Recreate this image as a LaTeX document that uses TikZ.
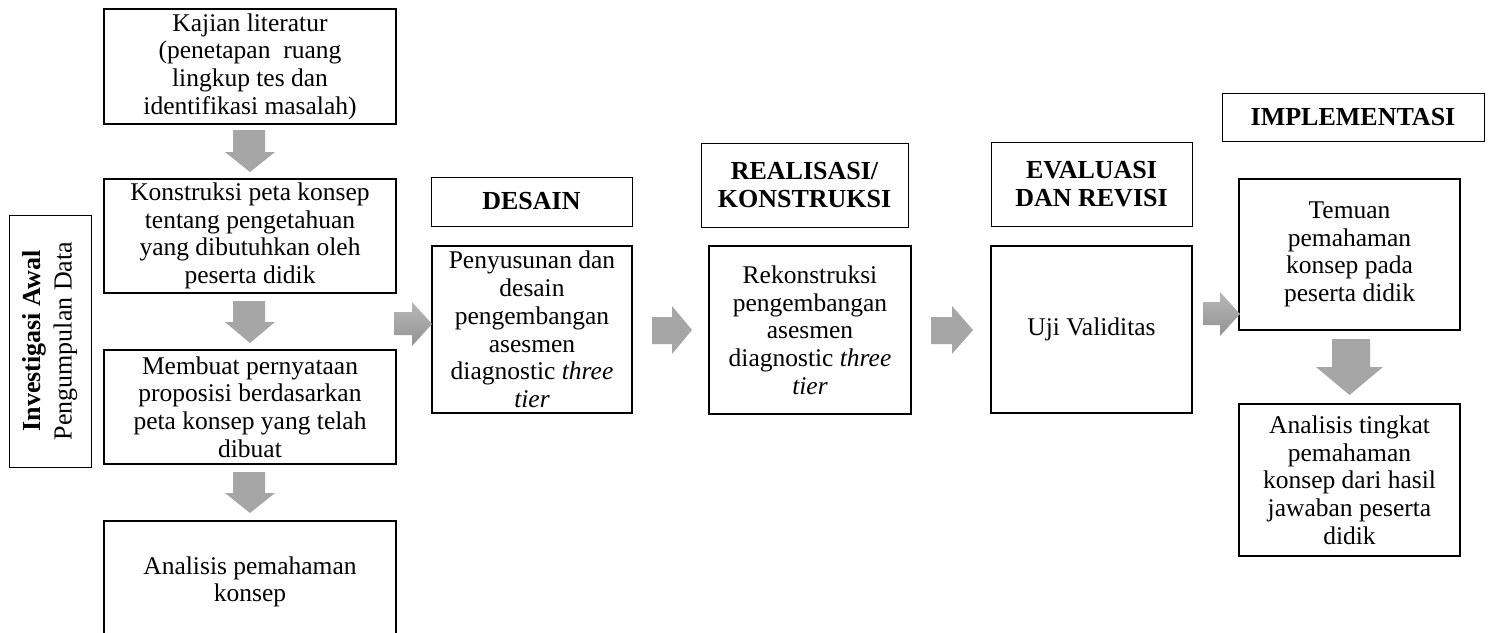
\documentclass[tikz,border=0pt]{standalone}
\usepackage{fontspec}
\setmainfont{Liberation Serif}
\definecolor{arrowgray}{RGB}{166,166,166}
\definecolor{shadetop}{RGB}{184,184,184}
\definecolor{shadebot}{RGB}{146,146,146}
\newcommand\blkR[8][fill=arrowgray]{%
  \path[#1] (#2,#5) -- (#3,#5) -- (#3,#7) -- (#4,{(#7+#8)/2}) -- (#3,#8) -- (#3,#6) -- (#2,#6) -- cycle;}
\newcommand\blkD[8][fill=arrowgray]{%
  \path[#1] (#2,#6) -- (#3,#6) -- (#3,#7) -- (#5,#7) -- ({(#4+#5)/2},#8) -- (#4,#7) -- (#2,#7) -- cycle;}
\begin{document}
\begin{tikzpicture}[x=1pt,y=-1pt,
  mainbox/.style={draw, line width=2.4pt, align=center, inner sep=0pt,
    font=\fontsize{25.5}{27.7}\selectfont},
  headbox/.style={draw, line width=1pt, align=center, inner sep=0pt,
    font=\fontsize{26}{28}\selectfont\bfseries},
  shadedarrow/.style={top color=shadetop, bottom color=shadebot, draw=none}]
\clip (0,0) rectangle (1491,632);
\fill[white] (0,0) rectangle (1491,632);

% left column
\node[mainbox, minimum width=292, minimum height=115] (kaj) at (250,66.5)
  {Kajian literatur\\(penetapan\ \ ruang\\lingkup tes dan\\identifikasi masalah)};
\node[mainbox, minimum width=292, minimum height=114] (kon) at (250,236)
  {Konstruksi peta konsep\\tentang pengetahuan\\yang dibutuhkan oleh\\peserta didik};
\node[mainbox, minimum width=292, minimum height=114] (mem) at (250,407)
  {Membuat pernyataan\\proposisi berdasarkan\\peta konsep yang telah\\dibuat};
\node[mainbox, minimum width=292, minimum height=122] (ana) at (250,582)
  {Analisis pemahaman\\konsep};

\node[draw, line width=1pt, minimum width=82, minimum height=252, inner sep=0pt] (inv) at (50,341) {};
\node[rotate=90, align=center, inner sep=0pt, font=\fontsize{26}{31}\selectfont] (invtext) at (inv.center)
  {\textbf{Investigasi Awal}\\Pengumpulan Data};

% design
\node[headbox, minimum width=201, minimum height=49] (desH) at (531.5,201.5) {DESAIN};
\node[mainbox, minimum width=200, minimum height=167] (pen) at (532,329.5)
  {Penyusunan dan\\desain\\pengembangan\\asesmen\\diagnostic \textit{three}\\\textit{tier}};

% realisasi
\node[headbox, minimum width=207, minimum height=84] (reaH) at (804.5,185) {REALISASI/\\KONSTRUKSI};
\node[mainbox, minimum width=202, minimum height=168] (rek) at (810,330)
  {Rekonstruksi\\pengembangan\\asesmen\\diagnostic \textit{three}\\\textit{tier}};

% evaluasi
\node[headbox, minimum width=201, minimum height=84] (evaH) at (1091.5,184) {EVALUASI\\DAN REVISI};
\node[mainbox, minimum width=201, minimum height=167] (uji) at (1091.5,329.5) {Uji Validitas};

% implementasi
\node[headbox, minimum width=262, minimum height=48] (impH) at (1353,117) {IMPLEMENTASI};
\node[mainbox, minimum width=221, minimum height=151] (tem) at (1349.5,254.5)
  {Temuan\\pemahaman\\konsep pada\\peserta didik};
\node[mainbox, minimum width=221, minimum height=152] (ant) at (1349.5,480)
  {Analisis tingkat\\pemahaman\\konsep dari hasil\\jawaban peserta\\didik};

% block arrows, down (left column)
\blkD{233}{265}{225}{275}{130}{152}{172}
\blkD{233}{265}{225}{275}{301}{322}{343}
\blkD{233}{265}{225}{275}{472}{493}{513}
% block arrows, right
\blkR[shadedarrow]{394}{412}{432}{312}{335}{302}{346}
\blkR{652}{672}{692}{317}{344}{306}{354}
\blkR{931}{952}{973}{317}{344}{306}{354}
\blkR[shadedarrow]{1203}{1220}{1240}{302}{325}{292}{336}
% block arrow, down (right column)
\blkD{1332}{1370}{1316}{1383}{339}{367}{395}
\end{tikzpicture}
\end{document}
